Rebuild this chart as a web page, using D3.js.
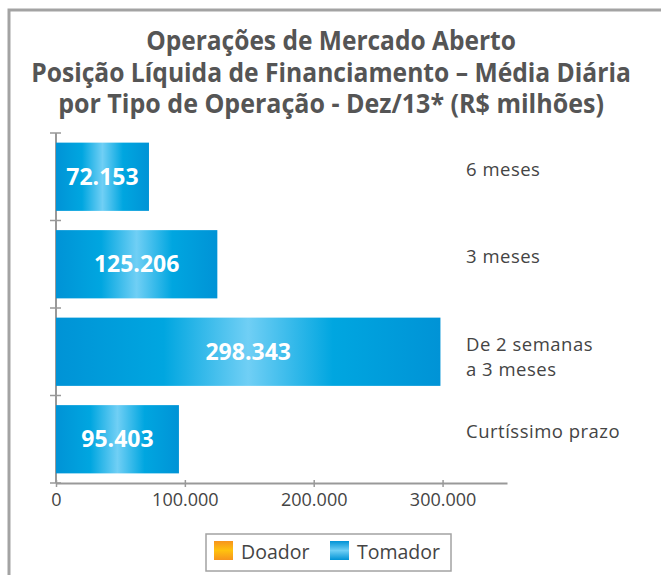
<!DOCTYPE html>
<html><head><meta charset="utf-8">
<script src="https://cdn.jsdelivr.net/npm/d3@7"></script>
<style>body{margin:0;background:#fff}svg{display:block}</style>
</head><body>
<script>
const categories = ["6 meses", "3 meses", "De 2 semanas|a 3 meses", "Curtíssimo prazo"];
const values = [72153, 125206, 298343, 95403];
const valueLabels = ["72.153", "125.206", "298.343", "95.403"];
const xTicks = [0, 100000, 200000, 300000];
const xTickLabels = ["0", "100.000", "200.000", "300.000"];
const titleLines = ["Operações de Mercado Aberto", "Posição Líquida de Financiamento – Média Diária", "por Tipo de Operação - Dez/13* (R$ milhões)"];
const legendItems = ["Doador", "Tomador"];

const W = 661, H = 575;
const svg = d3.select("body").append("svg").attr("width", W).attr("height", H);
const defs = svg.append("defs");
const g1 = defs.append("linearGradient").attr("id", "blue").attr("x1", "0").attr("x2", "1").attr("y1", "0").attr("y2", "0");
[[0, "#0093d6"], [0.28, "#00a6e0"], [0.5, "#70cff5"], [0.72, "#00a6e0"], [1, "#0093d6"]].forEach(s => g1.append("stop").attr("offset", s[0]).attr("stop-color", s[1]));
const g2 = defs.append("linearGradient").attr("id", "blueV").attr("x1", "0").attr("x2", "0").attr("y1", "0").attr("y2", "1");
[[0, "#0093d6"], [0.5, "#70cff5"], [1, "#0093d6"]].forEach(s => g2.append("stop").attr("offset", s[0]).attr("stop-color", s[1]));
const g3 = defs.append("linearGradient").attr("id", "orangeV").attr("x1", "0").attr("x2", "0").attr("y1", "0").attr("y2", "1");
[[0, "#f7941d"], [0.5, "#ffc20e"], [1, "#f7941d"]].forEach(s => g3.append("stop").attr("offset", s[0]).attr("stop-color", s[1]));

// frame
svg.append("path").attr("d", `M9,${H} V10 H${W}`).attr("fill", "none").attr("stroke", "#a3a3a3").attr("stroke-width", 3);

const font = "'Open Sans', 'Noto Sans', sans-serif";

// title (condensed look: scale each line horizontally to the reference width)
const titleWidths = [370, 600, 546];
svg.append("g").selectAll("text").data(titleLines).join("text")
  .attr("text-anchor", "middle").attr("font-family", font).attr("font-weight", "bold")
  .attr("font-size", 26.5).attr("fill", "#555")
  .text(d => d)
  .each(function (d, i) {
    const natural = this.getComputedTextLength();
    const sx = titleWidths[i] / natural;
    d3.select(this).attr("transform", `translate(331,${50 + i * 31.5}) scale(${sx},1)`);
  });

const x = d3.scaleLinear().domain([0, 350000]).range([56, 507]);
const y = d3.scaleBand().domain(categories).range([133, 483]).paddingInner(0.22).paddingOuter(0.11);

// axes
const xAxis = svg.append("g").attr("transform", "translate(0,483)")
  .call(d3.axisBottom(x).tickValues(xTicks).tickFormat((d, i) => xTickLabels[i]).tickSize(5).tickSizeOuter(0));
xAxis.select(".domain").attr("stroke", "#999").attr("stroke-width", 2);
xAxis.selectAll(".tick line").attr("stroke", "#999").attr("stroke-width", 1.5).attr("y1", -3).attr("y2", 4);
xAxis.selectAll(".tick text").attr("font-family", font).attr("font-size", 18).attr("fill", "#444").attr("dy", "0.85em");

const bandEdges = categories.map(c => y(c) - y.step() * y.paddingInner() / 2).concat([483]);
svg.append("line").attr("x1", 56).attr("x2", 56).attr("y1", bandEdges[0]).attr("y2", 483).attr("stroke", "#999").attr("stroke-width", 2);
svg.append("g").selectAll("line").data(bandEdges).join("line")
  .attr("x1", 50).attr("x2", 61).attr("y1", d => d).attr("y2", d => d).attr("stroke", "#999").attr("stroke-width", 1.5);

// bars
svg.append("g").selectAll("rect").data(values).join("rect")
  .attr("x", x(0)).attr("y", (d, i) => y(categories[i]))
  .attr("width", d => x(d) - x(0)).attr("height", y.bandwidth()).attr("fill", "url(#blue)");

svg.append("g").selectAll("text").data(values).join("text")
  .attr("x", d => (x(0) + x(d)) / 2).attr("y", (d, i) => y(categories[i]) + y.bandwidth() / 2 + 8)
  .attr("text-anchor", "middle").attr("font-family", font).attr("font-weight", "bold")
  .attr("font-size", 23).attr("fill", "#fff").text((d, i) => valueLabels[i]);

// category labels
const cat = svg.append("g").selectAll("text").data(categories).join("text")
  .attr("x", 466).attr("font-family", font).attr("font-size", 18.5).attr("fill", "#444")
  .attr("letter-spacing", 0.5);
cat.each(function (d) {
  const lines = d.split("|");
  const cy = y(d) + y.bandwidth() / 2;
  const t = d3.select(this);
  lines.forEach((l, i) => {
    t.append("tspan").attr("x", 466).attr("y", cy - 1 + i * 25).text(l);
  });
});

// legend
const lg = svg.append("g");
lg.append("rect").attr("x", 206).attr("y", 534).attr("width", 245).attr("height", 37).attr("fill", "#fff").attr("stroke", "#a3a3a3").attr("stroke-width", 1.5);
const fills = ["url(#orangeV)", "url(#blueV)"];
const lx = [214, 330];
legendItems.forEach((t, i) => {
  lg.append("rect").attr("x", lx[i]).attr("y", 541).attr("width", 19).attr("height", 19).attr("fill", fills[i]);
  lg.append("text").attr("x", lx[i] + 27).attr("y", 559).attr("font-family", font).attr("font-size", 19.5).attr("fill", "#444").text(t);
});
</script>
</body></html>
